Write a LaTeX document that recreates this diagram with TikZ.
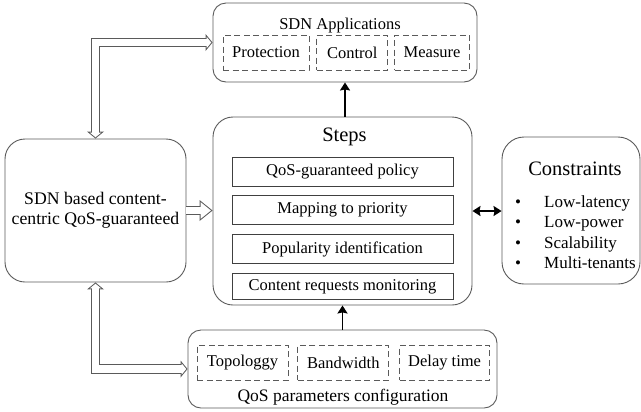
\documentclass[tikz,border=0pt]{standalone}
\usepackage{fontspec}
\setmainfont{Liberation Serif}
\usetikzlibrary{arrows.meta,positioning}
\definecolor{boxgray}{RGB}{90,90,90}
\newcommand{\diagtext}{\fontsize{16.5bp}{19.5bp}\selectfont}
\newcommand{\diagbig}{\fontsize{17.5bp}{19.5bp}\selectfont}
\newcommand{\diagtitle}{\fontsize{20.5bp}{24bp}\selectfont}
\tikzset{
	bigbox/.style={
		draw=boxgray,
		line width=0.9bp,
		rounded corners=#1,
	},
	dashbox/.style={
		draw=boxgray,
		line width=0.8bp,
		dash pattern=on 6bp off 3.5bp,
		minimum height=35bp,
		inner sep=0pt,
		font=\diagtext,
	},
	stepbox/.style={
		draw=black!75,
		line width=0.8bp,
		minimum width=221bp,
		minimum height=29bp,
		inner sep=0pt,
		font=\diagtext,
	},
	link/.style={
		line width=1.8bp,
		-{Stealth[length=8bp,width=10bp,inset=1bp]},
	},
	hhead/.tip={Triangle[length=7bp,width=17bp,line width=0pt]},
	hinner/.tip={Triangle[length=4.7bp,width=11.4bp,line width=0pt]},
	hbig/.tip={Triangle[length=13bp,width=21bp,line width=0pt]},
	hbiginner/.tip={Triangle[length=10.4bp,width=16.8bp,line width=0pt]},
	hollow/.style={
		draw=boxgray,
		line width=9.8bp,
		{hhead}-{hhead},
		postaction={draw=white,line width=7.8bp,{hinner}-{hinner},
			shorten <=1.3bp,shorten >=1.3bp},
	},
	hollow big/.style={
		draw=boxgray,
		line width=9.8bp,
		-{hbig},
		postaction={draw=white,line width=7.8bp,-{hbiginner},shorten >=1.6bp},
	},
}

\begin{document}
\begin{tikzpicture}[x=1bp,y=-1bp]
	\useasboundingbox (0,0) rectangle (641,411);
	
	% SDN applications
	\node [bigbox=13bp,minimum width=264bp,minimum height=79bp] (apps) at (345,42.5) {};
	\node [font=\diagtext,anchor=base] (appstitle) at (340,29) {SDN Applications};
	\node [dashbox,minimum width=86bp] (prot) at (266,52.5) {Protection};
	\node [dashbox,minimum width=71bp] (ctrl) [right=7bp of prot] {Control};
	\node [dashbox,minimum width=75bp] (meas) [right=6bp of ctrl] {Measure};
	
	% steps
	\node [bigbox=20bp,minimum width=259bp,minimum height=188bp] (steps) at (342.5,211) {};
	\node [font=\diagtitle,anchor=base] (stepstitle) at (344.5,141) {Steps};
	\node [stepbox] (policy) at (342.5,171.5) {QoS-guaranteed policy};
	\node [stepbox] (mapping) [below=9bp of policy] {Mapping to priority};
	\node [stepbox] (popular) [below=9bp of mapping] {Popularity identification};
	\node [stepbox,minimum height=26bp] (monitor) [below=9bp of popular] {Content requests monitoring};
	
	% left box
	\node [bigbox=20bp,minimum width=181bp,minimum height=143bp,align=center,font=\fontsize{17.7bp}{20bp}\selectfont] (sdn) at (95.5,210.5) {SDN based content-\\centric QoS-guaranteed};
	
	% constraints
	\node [bigbox=22bp,minimum width=138bp,minimum height=147bp] (cons) at (571,210.5) {};
	\node [font=\diagtitle,anchor=base] (constitle) at (575,175) {Constraints};
	\node [font=\fontsize{17bp}{20.6bp}\selectfont,anchor=north west,align=left,inner sep=0pt] (items) at (515,195) {\makebox[29bp][l]{\textbullet}Low-latency\\\makebox[29bp][l]{\textbullet}Low-power\\\makebox[29bp][l]{\textbullet}Scalability\\\makebox[29bp][l]{\textbullet}Multi-tenants};
	
	% QoS parameters
	\node [bigbox=13bp,minimum width=309bp,minimum height=78bp] (params) at (342.5,369) {};
	\node [dashbox,minimum width=91bp] (topo) at (242.5,362.5) {Topologgy};
	\node [dashbox,minimum width=91bp] (band) [right=9bp of topo] {Bandwidth};
	\node [dashbox,minimum width=90bp] (delay) [right=10bp of band] {Delay time};
	\node [font=\diagbig,anchor=base] (paramstitle) at (343,401) {QoS parameters configuration};
	
	% connectors
	\draw[link] (steps.north -| apps.south) -- (apps.south);
	\draw[link] (params.north) -- (params.north |- steps.south);
	\draw[link,{Stealth[length=8bp,width=10bp,inset=1bp]}-{Stealth[length=8bp,width=10bp,inset=1bp]}] (steps.east) -- (steps.east -| cons.west);
	\draw[hollow] (sdn.north) |- (apps.west);
	\draw[hollow] (sdn.south) |- (params.west);
	\draw[hollow big] (sdn.east) -- (sdn.east -| steps.west);
\end{tikzpicture}
\end{document}
